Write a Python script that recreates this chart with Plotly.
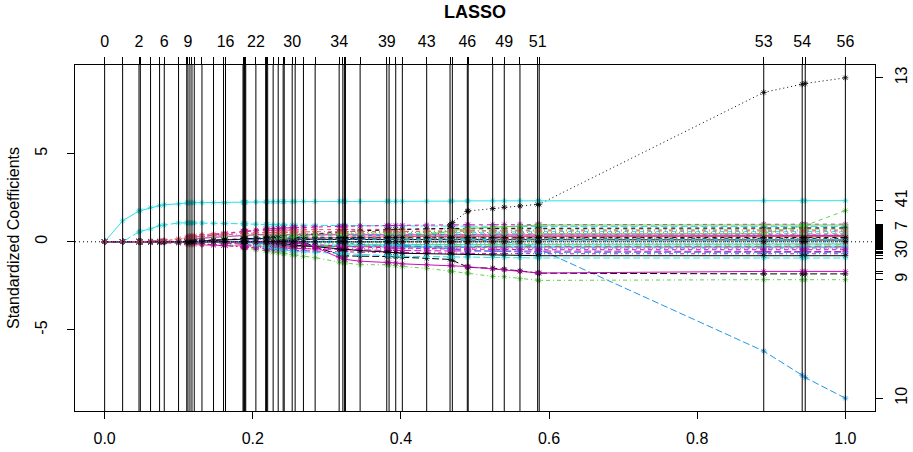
import plotly.graph_objects as go

# ---- data (lars LASSO path) ----
# fraction |beta|/max|beta| at each lars step (57 steps: 0..56)
steps = [0, 0.0243, 0.0464, 0.0482, 0.0620, 0.0742, 0.0805, 0.0998, 0.1109,
         0.1125, 0.1152, 0.1179, 0.1210, 0.1314, 0.1470, 0.1605, 0.1632,
         0.1868, 0.1878, 0.1887, 0.1896, 0.1905, 0.2042,
         0.2174, 0.2185, 0.2201, 0.2275, 0.2343, 0.2410, 0.2424, 0.2532, 0.2572, 0.2684, 0.2842,
         0.3166, 0.3216, 0.3237, 0.3251, 0.3449, 0.3809, 0.3840, 0.3930, 0.4019,
         0.4348, 0.4663, 0.4694, 0.4896, 0.4908, 0.5239, 0.5395, 0.5607, 0.5846, 0.5867,
         0.8898, 0.9417, 0.9458, 1.0]
top_labeled_steps = [0, 2, 6, 9, 16, 22, 30, 34, 39, 43, 46, 49, 51, 53, 54, 56]
x_ticks = [0.0, 0.2, 0.4, 0.6, 0.8, 1.0]
x_tick_labels = ["0.0", "0.2", "0.4", "0.6", "0.8", "1.0"]
y_ticks = [-5, 0, 5]
y_tick_labels = ["-5", "0", "5"]
right_labeled_vars = [13, 41, 7, 30, 9, 10]

# standardized coefficients of each variable at each step
coef_01 = [0,0,0,0,0,0,0,0,0,  0,0,0,0,.05,.08,.1,.12,  .15,.15,.15,.16,.16,.18,  .18,.18,.18,.17,.17,.16,.16,.16,.15,.15,.14,  .13,.13,.13,.13,.12,.12,.12,.12,.11,  .11,.11,.1,.1,.1,.1,.1,.1,.1,.1,  .1,.1,.1,.1]
coef_02 = [0,0,0,0,0,0,.05,.15,.2,  .3,.32,.33,.35,.4,.45,.5,.5,  .58,.58,.58,.59,.59,.62,  .64,.64,.64,.65,.66,.67,.67,.67,.68,.68,.69,  .7,.7,.7,.7,.71,.71,.71,.71,.72,  .72,.72,.72,.72,.73,.73,.73,.73,.73,.73,  .73,.73,.73,.73]
coef_03 = [0,0,0,0,0,0,0,0,0,  0,0,0,0,0,0,0,0,  0,-.05,-.06,-.07,-.08,-.12,  -.14,-.14,-.14,-.15,-.15,-.15,-.14,-.14,-.13,-.13,-.12,  -.12,-.12,-.12,-.12,-.11,-.11,-.11,-.1,-.1,  -.1,-.09,-.09,-.09,-.09,-.08,-.08,-.08,-.08,-.08,  -.08,-.08,-.08,-.08]
coef_04 = [0,0,0,0,0,0,0,0,0,  0,0,0,0,0,0,0,0,  0,0,0,0,0,0,  0,0,0,.03,.05,.08,.1,.1,.12,.13,.15,  .15,.15,.15,.15,.13,.12,.12,.12,.11,  .1,.09,.09,.08,.07,.07,.06,.06,.05,.05,  .05,.05,.05,.05]
coef_05 = [0,0,.56,.6,.73,.92,.95,1.07,1.07,  1.07,1.07,1.07,1.07,1.06,1.05,1.04,1.04,  1.02,1.02,1.02,1.02,1.02,1.0,  .98,.98,.98,.97,.96,.95,.95,.95,.94,.94,.93,  .92,.92,.92,.92,.91,.9,.9,.9,.9,  .89,.89,.89,.88,.88,.88,.87,.87,.87,.87,  .87,.87,.87,.87]
coef_06 = [0,0,0,0,0,0,0,0,0,  0,.1,.12,.14,.2,.25,.3,.3,  .35,.35,.35,.36,.36,.4,  .42,.42,.42,.42,.41,.4,.4,.4,.4,.39,.39,  .38,.38,.38,.38,.37,.37,.37,.37,.37,  .37,.37,.36,.36,.36,.36,.36,.36,.36,.36,  .36,.36,.36,.36]
coef_07 = [0,0,0,0,0,0,0,0,0,  0,0,0,0,0,0,0,0,  0,0,0,0,0,0,  0,0,0,0,0,0,0,.1,.2,.35,.45,  .55,.57,.58,.58,.62,.68,.68,.7,.72,  .74,.76,.76,.77,.77,.78,.78,.79,.79,.79,  .79,.79,.79,.79]
coef_08 = [0,0,0,0,0,0,0,0,0,  0,0,0,0,0,0,0,0,  0,0,0,0,.1,.2,  .3,.3,.31,.33,.36,.38,.4,.41,.44,.45,.47,  .5,.5,.5,.5,.51,.52,.52,.53,.53,  .54,.54,.54,.55,.55,.55,.55,.55,.55,.55,  .55,.55,.55,.55]
coef_09 = [0,0,0,0,0,0,0,0,0,  0,0,0,0,0,-.05,-.1,-.12,  -.3,-.31,-.32,-.33,-.34,-.45,  -.5,-.5,-.52,-.58,-.62,-.66,-.67,-.73,-.76,-.83,-.9,  -1.15,-1.18,-1.2,-1.2,-1.3,-1.3,-1.32,-1.36,-1.4,  -1.5,-1.66,-1.68,-1.76,-1.77,-1.96,-1.98,-2.09,-2.18,-2.19,  -2.15,-2.15,-2.15,-2.15]
coef_10 = [0,0,0,0,0,0,0,0,0,  0,0,0,0,0,0,0,0,  0,0,0,0,0,0,  0,0,0,0,0,0,0,0,0,0,0,  0,0,0,0,0,0,0,0,0,  0,0,0,0,0,0,0,-.1,-.3,-.42,  -6.2,-7.57,-7.7,-8.87]
coef_11 = [0,0,0,0,0,0,0,0,0,  0,0,0,0,0,0,0,0,  0,0,0,0,0,0,  0,-.05,-.08,-.1,-.12,-.15,-.17,-.18,-.2,-.2,-.2,  -.2,-.2,-.2,-.2,-.18,-.18,-.17,-.17,-.16,  -.15,-.15,-.14,-.14,-.13,-.13,-.13,-.12,-.12,-.12,  -.12,-.12,-.12,-.12]
coef_12 = [0,0,0,0,0,0,0,0,.05,  .15,.17,.2,.22,.3,.38,.45,.46,  .6,.6,.6,.61,.62,.66,  .72,.72,.73,.75,.77,.78,.8,.8,.83,.84,.86,  .88,.88,.88,.88,.9,.92,.92,.93,.94,  .95,.96,.96,.97,.97,.98,.98,.99,1,1,  1,1,1,1]
coef_13 = [0,0,0,0,0,0,0,0,0,  0,0,0,0,0,0,0,0,  0,0,0,0,0,0,  0,0,0,0,0,0,0,0,0,0,0,  0,0,0,0,0,0,0,0,0,  0,.95,1.09,1.72,1.75,1.88,1.96,2.03,2.12,2.13,  8.47,8.93,8.98,9.3]
coef_14 = [0,0,0,0,0,0,0,0,0,  0,0,0,0,0,0,0,0,  0,0,0,0,0,0,  0,0,0,0,0,0,0,0,.05,.1,.15,  .25,.26,.27,.27,.3,.33,.34,.35,.36,  .37,.38,.38,.39,.39,.39,.4,.4,.4,.4,  .4,.4,.4,.4]
coef_15 = [0,0,0,0,0,0,0,0,0,  0,0,0,0,0,0,0,-.05,  -.12,-.12,-.12,-.13,-.13,-.16,  -.18,-.18,-.19,-.2,-.21,-.22,-.22,-.22,-.22,-.22,-.21,  -.2,-.2,-.2,-.2,-.2,-.19,-.19,-.19,-.19,  -.18,-.18,-.18,-.18,-.17,-.17,-.17,-.17,-.17,-.17,  -.17,-.17,-.17,-.17]
coef_16 = [0,0,0,0,0,0,0,0,0,  0,0,0,0,0,0,0,0,  0,0,0,0,0,-.08,  -.12,-.12,-.13,-.15,-.17,-.2,-.21,-.22,-.24,-.25,-.26,  -.28,-.28,-.28,-.28,-.29,-.3,-.3,-.3,-.3,  -.3,-.3,-.3,-.3,-.3,-.3,-.3,-.3,-.3,-.3,  -.3,-.3,-.3,-.3]
coef_17 = [0,0,0,0,0,0,0,0,0,  0,0,0,0,0,0,0,0,  0,0,0,0,0,0,  0,0,0,0,0,0,0,0,0,0,0,  .15,.2,.22,.23,.3,.4,.41,.44,.46,  .5,.52,.52,.54,.55,.56,.57,.58,.58,.58,  .58,.58,.58,.58]
coef_18 = [0,0,0,0,0,0,0,0,0,  -.05,-.06,-.07,-.08,-.12,-.15,-.2,-.2,  -.28,-.28,-.28,-.29,-.29,-.32,  -.34,-.34,-.34,-.35,-.36,-.37,-.37,-.37,-.38,-.38,-.39,  -.4,-.4,-.4,-.4,-.4,-.4,-.4,-.4,-.4,  -.4,-.4,-.4,-.4,-.4,-.4,-.4,-.4,-.4,-.4,  -.4,-.4,-.4,-.4]
coef_19 = [0,0,0,0,0,0,0,0,0,  0,0,0,0,0,0,0,0,  0,0,0,0,0,0,  0,0,0,0,0,.05,.08,.1,.12,.13,.15,  .18,.18,.18,.18,.2,.22,.22,.22,.22,  .21,.21,.21,.2,.2,.2,.2,.2,.2,.2,  .2,.2,.2,.2]
coef_20 = [0,0,0,0,0,-.05,-.07,-.1,-.12,  -.15,-.15,-.16,-.16,-.18,-.2,-.22,-.22,  -.25,-.25,-.25,-.25,-.25,-.26,  -.27,-.27,-.27,-.27,-.27,-.27,-.27,-.27,-.27,-.27,-.27,  -.27,-.27,-.27,-.27,-.27,-.27,-.27,-.27,-.27,  -.27,-.27,-.27,-.26,-.26,-.26,-.26,-.26,-.26,-.26,  -.26,-.26,-.26,-.26]
coef_21 = [0,0,0,0,0,0,0,0,0,  0,0,0,0,0,0,0,0,  0,0,0,0,0,0,  0,0,0,0,0,0,0,0,0,0,0,  0,0,0,0,0,0,0,0,.2,  .4,.6,.62,.75,.76,.82,.86,.9,.94,.95,  .95,.95,.95,.95]
coef_22 = [0,0,0,0,0,0,0,0,0,  0,0,0,0,0,0,0,0,  .05,.06,.07,.08,.09,.15,  .2,.2,.21,.22,.24,.26,.27,.28,.3,.31,.32,  .35,.35,.35,.35,.37,.39,.39,.4,.4,  .41,.42,.42,.43,.43,.44,.44,.45,.45,.45,  .45,.45,.45,.45]
coef_23 = [0,0,0,0,0,0,0,0,0,  0,0,0,0,0,0,0,0,  0,0,0,0,0,0,  0,0,0,0,0,0,0,0,0,0,-.05,  -.15,-.16,-.17,-.17,-.2,-.22,-.22,-.22,-.22,  -.22,-.22,-.21,-.21,-.21,-.2,-.2,-.2,-.2,-.2,  -.2,-.2,-.2,-.2]
coef_24 = [0,0,0,0,0,0,0,0,0,  0,0,0,-.05,-.12,-.18,-.22,-.23,  -.3,-.3,-.31,-.31,-.32,-.36,  -.4,-.4,-.41,-.42,-.44,-.46,-.47,-.48,-.5,-.51,-.53,  -.56,-.56,-.57,-.57,-.59,-.6,-.6,-.61,-.62,  -.63,-.64,-.64,-.65,-.66,-.66,-.67,-.67,-.68,-.68,  -.68,-.68,-.68,-.68]
coef_25 = [0,0,0,0,0,0,0,0,0,  0,0,0,0,0,0,0,0,  0,0,0,0,0,0,  0,0,0,0,0,0,0,0,0,0,-.3,  -.75,-.78,-.8,-.8,-.83,-.83,-.84,-.86,-.88,  -.95,-1.0,-1.05,-1.43,-1.45,-1.5,-1.55,-1.65,-1.77,-1.78,  -1.82,-1.82,-1.82,-1.82]
coef_26 = [0,0,0,0,0,0,0,0,0,  0,0,0,0,0,0,0,0,  0,0,0,0,0,0,  .05,.06,.07,.1,.12,.15,.16,.17,.2,.2,.22,  .25,.25,.25,.25,.27,.28,.28,.29,.29,  .3,.3,.3,.3,.3,.3,.3,.3,.3,.3,  .3,.3,.3,.3]
coef_27 = [0,0,0,0,0,0,0,0,0,  0,0,0,0,0,0,0,0,  0,0,0,0,0,0,  0,0,0,0,0,0,0,0,0,0,0,  0,0,0,0,0,0,0,0,0,  0,0,0,0,0,0,0,0,.15,.45,  .47,.88,.92,1.77]
coef_28 = [0,0,0,0,0,0,0,0,0,  0,0,0,0,0,0,0,0,  0,0,.05,.06,.07,.12,  .15,.15,.15,.16,.17,.18,.18,.18,.18,.18,.18,  .17,.17,.17,.17,.17,.16,.16,.16,.16,  .16,.16,.15,.15,.15,.15,.15,.15,.15,.15,  .15,.15,.15,.15]
coef_29 = [0,0,0,0,0,0,0,0,0,  0,0,0,0,0,0,0,0,  0,0,0,0,0,0,  0,0,0,0,0,0,0,0,0,0,0,  0,0,0,0,0,.05,.06,.08,.1,  .12,.13,.13,.14,.14,.13,.13,.12,.12,.12,  .12,.12,.12,.12]
coef_30 = [0,0,0,0,0,0,0,0,0,  0,0,0,0,0,0,-.05,-.07,  -.15,-.15,-.16,-.16,-.17,-.22,  -.27,-.27,-.28,-.3,-.32,-.34,-.35,-.36,-.38,-.39,-.41,  -.44,-.44,-.45,-.45,-.47,-.49,-.49,-.5,-.5,  -.51,-.52,-.52,-.53,-.53,-.54,-.54,-.55,-.55,-.55,  -.55,-.55,-.55,-.55]
coef_31 = [0,0,0,0,0,0,0,0,0,  0,0,0,0,0,0,0,0,  0,0,0,0,0,0,  0,0,0,0,-.05,-.1,-.12,-.15,-.2,-.22,-.28,  -.4,-.42,-.43,-.43,-.5,-.58,-.6,-.62,-.65,  -.68,-.7,-.7,-.72,-.73,-.75,-.76,-.78,-.79,-.79,  -.79,-.79,-.79,-.79]
coef_32 = [0,0,0,0,0,0,0,0,0,  0,0,0,0,0,0,0,0,  0,0,0,0,0,0,  0,0,0,0,0,0,0,0,0,0,0,  0,0,0,0,0,0,0,0,0,  0,0,0,0,0,.08,.12,.18,.24,.26,  .27,.27,.27,.27]
coef_33 = [0,0,0,0,0,0,0,.05,.1,  .15,.16,.17,.18,.22,.26,.3,.3,  .36,.36,.36,.37,.37,.39,  .41,.41,.41,.42,.42,.43,.43,.43,.44,.44,.45,  .46,.46,.46,.46,.47,.47,.47,.47,.48,  .48,.48,.48,.48,.49,.49,.49,.49,.49,.49,  .49,.49,.49,.49]
coef_34 = [0,0,0,0,0,0,0,0,0,  0,0,0,0,0,0,0,0,  0,0,0,0,0,0,  0,0,0,0,0,0,0,0,0,0,0,  0,-.05,-.07,-.08,-.15,-.22,-.23,-.25,-.27,  -.29,-.31,-.31,-.32,-.33,-.34,-.34,-.35,-.35,-.35,  -.35,-.35,-.35,-.35]
coef_35 = [0,0,0,0,0,0,0,0,0,  0,0,0,0,0,0,0,0,  0,0,0,-.05,-.08,-.2,  -.3,-.3,-.32,-.36,-.4,-.45,-.48,-.5,-.55,-.57,-.6,  -.68,-.69,-.7,-.7,-.74,-.78,-.79,-.8,-.82,  -.84,-.86,-.86,-.87,-.88,-.89,-.9,-.91,-.92,-.92,  -.92,-.92,-.92,-.92]
coef_36 = [0,0,0,0,0,0,0,0,0,  0,0,0,0,0,0,0,0,  0,0,0,0,0,0,  0,0,0,0,0,0,0,0,0,-.1,-.3,  -.9,-.95,-1.0,-1.0,-1.1,-1.15,-1.17,-1.2,-1.25,  -1.3,-1.34,-1.36,-1.4,-1.42,-1.54,-1.6,-1.68,-1.77,-1.77,  -1.68,-1.68,-1.68,-1.68]
coef_37 = [0,0,0,0,0,0,0,0,0,  0,0,.05,.06,.08,.1,.13,.14,  .18,.18,.18,.19,.19,.2,  .22,.22,.22,.23,.23,.23,.24,.24,.24,.24,.24,  .24,.24,.24,.24,.24,.24,.24,.24,.24,  .24,.24,.24,.24,.24,.24,.24,.24,.24,.24,  .24,.24,.24,.24]
coef_38 = [0,0,0,0,0,0,0,0,0,  0,0,0,0,0,0,0,0,  0,0,0,0,0,0,  0,0,0,0,0,0,0,0,0,0,0,  0,0,0,0,0,0,0,0,0,  0,0,0,-.03,-.04,-.06,-.06,-.05,-.05,-.05,  -.05,-.05,-.05,-.05]
coef_39 = [0,0,0,0,0,0,0,0,0,  0,0,0,0,0,0,0,0,  0,0,0,0,0,0,  0,0,.05,.1,.15,.2,.22,.24,.3,.32,.35,  .42,.43,.43,.44,.48,.52,.53,.55,.57,  .6,.61,.62,.63,.64,.65,.66,.67,.68,.68,  .68,.68,.68,.68]
coef_40 = [0,0,0,0,0,0,0,0,0,  0,0,0,0,0,0,0,0,  0,0,0,0,0,0,  0,0,0,0,0,0,0,0,0,0,0,  0,0,0,0,0,0,0,-.1,-.2,  -.3,-.4,-.42,-.48,-.49,-.53,-.55,-.58,-.6,-.6,  -.6,-.6,-.6,-.6]
coef_41 = [0,1.19,1.75,1.77,1.94,2.05,2.1,2.15,2.2,  2.22,2.22,2.22,2.22,2.22,2.22,2.22,2.22,  2.24,2.24,2.24,2.25,2.25,2.26,  2.26,2.27,2.27,2.27,2.28,2.28,2.28,2.28,2.29,2.29,2.29,  2.3,2.3,2.3,2.3,2.3,2.3,2.3,2.3,2.3,  2.3,2.3,2.31,2.31,2.32,2.32,2.32,2.33,2.33,2.33,  2.33,2.33,2.33,2.33]
coef_42 = [0,0,0,0,0,0,0,0,0,  0,0,0,0,0,0,0,0,  0,0,0,0,0,0,  0,0,0,0,0,0,-.05,-.08,-.12,-.14,-.18,  -.25,-.26,-.27,-.27,-.3,-.34,-.35,-.36,-.38,  -.4,-.41,-.41,-.42,-.43,-.44,-.44,-.45,-.45,-.45,  -.45,-.45,-.45,-.45]
coef_43 = [0,0,0,0,0,0,0,0,0,  0,0,0,0,0,0,0,0,  0,0,0,0,0,0,  0,0,0,0,0,0,0,0,0,0,0,  0,0,0,0,0,0,0,0,0,  0,0,0,0,0,0,0,0,0,0,  0,.01,.02,.02]
coef_44 = [0,0,0,0,.05,.08,.1,.15,.2,  .25,.26,.27,.28,.32,.36,.4,.4,  .46,.46,.46,.47,.47,.5,  .52,.52,.52,.53,.54,.55,.55,.55,.56,.56,.57,  .58,.58,.58,.58,.59,.59,.59,.59,.6,  .6,.6,.6,.61,.61,.61,.61,.62,.62,.62,  .62,.62,.62,.62]

paths = [coef_01, coef_02, coef_03, coef_04, coef_05, coef_06, coef_07, coef_08, coef_09, coef_10,
         coef_11, coef_12, coef_13, coef_14, coef_15, coef_16, coef_17, coef_18, coef_19, coef_20,
         coef_21, coef_22, coef_23, coef_24, coef_25, coef_26, coef_27, coef_28, coef_29, coef_30,
         coef_31, coef_32, coef_33, coef_34, coef_35, coef_36, coef_37, coef_38, coef_39, coef_40,
         coef_41, coef_42, coef_43, coef_44]
for i, p in enumerate(paths):
    if len(p) != len(steps):
        raise ValueError("coef_%02d has %d values, expected %d" % (i + 1, len(p), len(steps)))

# ---- styling (R default palette / line types) ----
palette = ["#000000", "#DF536B", "#61D04F", "#2297E6", "#28E2E5", "#CD0BBC"]
dashes = ["solid", "4px,4px", "1px,3px", "1px,3px,4px,3px", "7px,3px"]
FONT = "Liberation Sans, Arial, Helvetica, sans-serif"

xr = [-0.04, 1.04]
ymin = min(min(p) for p in paths)
ymax = max(max(p) for p in paths)
span = ymax - ymin
yr = [ymin - 0.04 * span, ymax + 0.04 * span]

fig = go.Figure()
for j, p in enumerate(paths):
    col = palette[j % 6]
    fig.add_trace(go.Scatter(
        x=steps, y=p, mode="lines+markers",
        line=dict(color=col, width=1, dash=dashes[j % 5]),
        marker=dict(symbol="asterisk-open", size=5, color=col, line=dict(color=col, width=0.8)),
        showlegend=False, hoverinfo="skip"))

finals = [p[-1] for p in paths]
# dummy trace to activate the top/right axes
fig.add_trace(go.Scatter(x=[steps[0]], y=[finals[0]], xaxis="x2", yaxis="y2", mode="markers",
                         marker=dict(opacity=0), showlegend=False, hoverinfo="skip"))

# vertical lines at each step
for s in steps:
    fig.add_shape(type="line", xref="x", yref="paper", x0=s, x1=s, y0=0, y1=1,
                  line=dict(color="#000000", width=1), layer="above")
# dotted zero line
fig.add_shape(type="line", xref="paper", yref="y", x0=0, x1=1, y0=0, y1=0,
              line=dict(color="#000000", width=1, dash="1px,3px"), layer="above")

top_text = [str(i) if i in top_labeled_steps else "" for i in range(len(steps))]
right_text = [str(i + 1) if (i + 1) in right_labeled_vars else "" for i in range(len(paths))]

axis_common = dict(showgrid=False, zeroline=False, ticks="outside", ticklen=7, tickwidth=1,
                   tickcolor="#000000", automargin=False,
                   tickfont=dict(family=FONT, size=16, color="#000000"))

fig.update_layout(
    width=913, height=452,
    margin=dict(l=75, r=38, t=65, b=41, pad=0, autoexpand=False),
    paper_bgcolor="white", plot_bgcolor="white",
    font=dict(family=FONT, size=16, color="#000000"),
    title=dict(text="<b>LASSO</b>", x=0.5, xref="paper", xanchor="center",
               y=1 - 12 / 452, yref="container", yanchor="middle", automargin=False,
               font=dict(family=FONT, size=18, color="#000000")),
    xaxis=dict(range=xr, tickvals=x_ticks, ticktext=x_tick_labels, showline=True,
               linecolor="#000000", linewidth=1, mirror=True, ticklabelstandoff=6, **axis_common),
    yaxis=dict(range=yr, tickvals=y_ticks, ticktext=y_tick_labels, showline=True,
               linecolor="#000000", linewidth=1, mirror=True, tickangle=-90,
               ticklabelstandoff=14, **axis_common),
    xaxis2=dict(range=xr, overlaying="x", side="top", anchor="y2", tickvals=steps,
                ticktext=top_text, showline=False, ticklabelstandoff=4, **axis_common),
    yaxis2=dict(range=yr, overlaying="y", side="right", anchor="x2", tickvals=finals,
                ticktext=right_text, showline=False, tickangle=-90,
                ticklabelstandoff=5, **axis_common),
    annotations=[dict(text="Standardized Coefficients", xref="paper", yref="paper",
                      x=0, y=0.5, xshift=-62, textangle=-90, showarrow=False,
                      xanchor="center", yanchor="middle",
                      font=dict(family=FONT, size=16, color="#000000"))],
)

fig.write_html("out.html", config={"displayModeBar": False},
               post_script="document.body.style.margin='0';document.body.style.padding='0';")
